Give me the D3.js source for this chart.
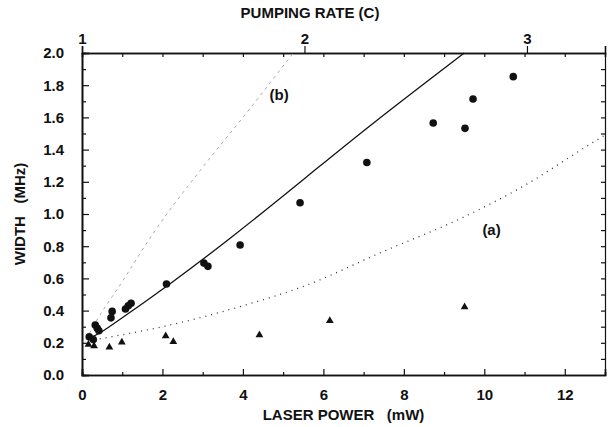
<!DOCTYPE html>
<html>
<head>
<meta charset="utf-8">
<script src="https://cdn.jsdelivr.net/npm/d3@7"></script>
<style>
  body { margin: 0; background: #fff; }
  text { font-family: "Liberation Sans", Arial, sans-serif; font-weight: bold; fill: #111; }
</style>
</head>
<body>
<div class="canvas"></div>
<script>
// laser power (mW), width (MHz)
const circlePoints = [
  [0.18, 0.238], [0.28, 0.22], [0.33, 0.31], [0.38, 0.29], [0.42, 0.275],
  [0.72, 0.355], [0.75, 0.395], [1.08, 0.41], [1.15, 0.43], [1.22, 0.445],
  [2.1, 0.565], [3.03, 0.695], [3.13, 0.675], [3.93, 0.807], [5.42, 1.07],
  [7.08, 1.32], [8.73, 1.565], [9.52, 1.532], [9.72, 1.714], [10.72, 1.853]
];
const trianglePoints = [
  [0.16, 0.19], [0.3, 0.18], [0.68, 0.172], [0.99, 0.203], [2.08, 0.242],
  [2.27, 0.207], [4.41, 0.248], [6.16, 0.337], [9.51, 0.422]
];
const solidCurve = [
  [0.2, 0.23], [0.45, 0.259], [1.0, 0.355], [2.19, 0.565], [3.68, 0.845],
  [5.66, 1.245], [7.07, 1.535], [9.5, 2.0]
];
const curveA = [
  [0, 0.205], [1, 0.25], [2, 0.30], [3, 0.36], [4, 0.43], [5.5, 0.55],
  [7.48, 0.766], [9.48, 0.98], [10.88, 1.16], [12.8, 1.46], [13, 1.49]
];
const curveB = [
  [0.1, 0.22], [0.32, 0.32], [1.0, 0.58], [1.77, 0.88], [3.0, 1.29],
  [4.0, 1.60], [5.25, 2.0]
];
const powerTicks = [0, 2, 4, 6, 8, 10, 12];
const widthTicks = [0, 0.2, 0.4, 0.6, 0.8, 1.0, 1.2, 1.4, 1.6, 1.8, 2.0];
const pumpTicks = [1, 2, 3];
const mWPerPump = 5.53;   // pumping rate C = 1 + P / 5.53

const svgWidth = 610, svgHeight = 427;
const margin = { top: 53, right: 5, bottom: 52, left: 82 };
const width = svgWidth - margin.left - margin.right;
const height = svgHeight - margin.top - margin.bottom;

const svg = d3.select(".canvas").append("svg")
  .attr("width", svgWidth)
  .attr("height", svgHeight);

const g = svg.append("g").attr("transform", `translate(${margin.left},${margin.top})`);

const x = d3.scaleLinear().domain([0, 13]).range([0, width]);
const y = d3.scaleLinear().domain([0, 2]).range([height, 0]);
const xc = d3.scaleLinear().domain([1, 1 + 13 / mWPerPump]).range([0, width]);

// minor ticks (inside)
const bottomMinor = d3.axisBottom(x).tickValues(d3.range(1, 13, 2)).tickSize(-3).tickFormat("");
const bottomMajor = d3.axisBottom(x).tickValues(powerTicks).tickSize(-6).tickPadding(14).tickFormat(d3.format("d"));
const leftMinor = d3.axisLeft(y).tickValues(d3.range(0.1, 2, 0.2)).tickSize(-4).tickFormat("");
const leftMajor = d3.axisLeft(y).tickValues(widthTicks).tickSize(-7).tickPadding(18).tickFormat(d3.format(".1f"));
const rightTicks = d3.axisRight(y).tickValues(d3.range(0.1, 2, 0.1)).tickSize(-4).tickFormat("");
const topMinor = d3.axisTop(x).tickValues(d3.range(1, 13)).tickSize(-4).tickFormat("");
const topMajor = d3.axisTop(xc).tickValues(pumpTicks).tickSize(7).tickPadding(2).tickFormat(d3.format("d"));

function styleAxis(sel, stroke) {
  sel.select(".domain").attr("stroke", "#111").attr("stroke-width", stroke);
  sel.selectAll(".tick line").attr("stroke", "#111").attr("stroke-width", 1.2);
  sel.selectAll(".tick text").attr("font-size", 15).attr("fill", "#111");
}

styleAxis(g.append("g").attr("transform", `translate(0,${height})`).call(bottomMinor), 1.6);
styleAxis(g.append("g").attr("transform", `translate(0,${height})`).call(bottomMajor), 1.6);
styleAxis(g.append("g").call(leftMinor), 1.6);
styleAxis(g.append("g").call(leftMajor), 1.6);
styleAxis(g.append("g").attr("transform", `translate(${width},0)`).call(rightTicks), 1.2);
styleAxis(g.append("g").call(topMinor), 1.6);
styleAxis(g.append("g").call(topMajor), 1.6);

// curves
const line = d3.line()
  .x(d => x(d[0]))
  .y(d => y(d[1]))
  .curve(d3.curveMonotoneX);

g.append("path").datum(curveB)
  .attr("d", line)
  .attr("fill", "none")
  .attr("stroke", "#aaa")
  .attr("stroke-width", 1)
  .attr("stroke-dasharray", "3,4");

g.append("path").datum(curveA)
  .attr("d", line)
  .attr("fill", "none")
  .attr("stroke", "#333")
  .attr("stroke-width", 1.3)
  .attr("stroke-dasharray", "1,5");

g.append("path").datum(solidCurve)
  .attr("d", line.curve(d3.curveBasis))
  .attr("fill", "none")
  .attr("stroke", "#111")
  .attr("stroke-width", 1.3);

// data points
g.selectAll("circle")
  .data(circlePoints)
  .join("circle")
  .attr("cx", d => x(d[0]))
  .attr("cy", d => y(d[1]))
  .attr("r", 3.8)
  .attr("fill", "#111");

g.selectAll(".tri")
  .data(trianglePoints)
  .join("path")
  .attr("class", "tri")
  .attr("d", d3.symbol(d3.symbolTriangle, 26))
  .attr("transform", d => `translate(${x(d[0])},${y(d[1])})`)
  .attr("fill", "#111");

// curve labels
g.append("text").attr("x", x(4.9)).attr("y", y(1.71)).attr("text-anchor", "middle")
  .attr("font-size", 15).text("(b)");
g.append("text").attr("x", x(10.18)).attr("y", y(0.87)).attr("text-anchor", "middle")
  .attr("font-size", 15).text("(a)");

// axis titles
svg.append("text").attr("x", margin.left + width / 2).attr("y", 420)
  .attr("text-anchor", "middle").attr("font-size", 15)
  .attr("xml:space", "preserve").text("LASER POWER   (mW)");
svg.append("text").attr("x", 310).attr("y", 18)
  .attr("text-anchor", "middle").attr("font-size", 15)
  .text("PUMPING RATE (C)");
svg.append("text")
  .attr("transform", `translate(25,${margin.top + height / 2}) rotate(-90)`)
  .attr("text-anchor", "middle").attr("font-size", 15)
  .attr("xml:space", "preserve").text("WIDTH   (MHz)");
</script>
</body>
</html>
